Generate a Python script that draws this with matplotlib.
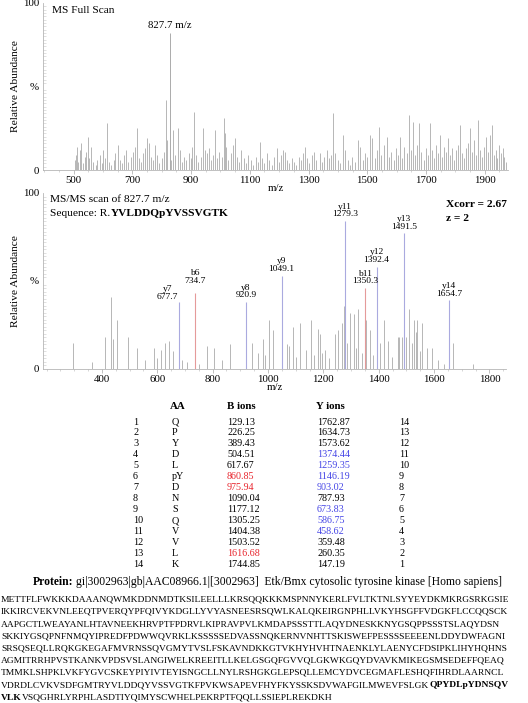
import matplotlib

matplotlib.use("Agg")
import matplotlib.pyplot as plt
from matplotlib.ticker import MultipleLocator

plt.rcParams["font.family"] = ["Liberation Serif", "DejaVu Serif"]

W, H = 528, 703  # figure size in pixels (dpi 100)

# --- MS full scan -----------------------------------------------------------
full_label = "827.7 m/z"
full_prec = (827.7, 82)
full_peaks = [
    (503, 6), (507, 9), (510, 14), (515, 5), (520, 12), (524, 16), (531, 4),
    (538, 8), (542, 11), (548, 20), (553, 7), (560, 14), (566, 5), (574, 3),
    (580, 6), (588, 9), (595, 4), (601, 12), (606, 7), (613, 28), (620, 5),
    (628, 3), (636, 6), (642, 10), (650, 15), (657, 6), (664, 4), (671, 9),
    (679, 12), (686, 5), (694, 8), (702, 11), (709, 14), (715, 25), (722, 7),
    (729, 5), (737, 10), (744, 13), (749, 19), (756, 16), (763, 8), (769, 6),
    (776, 15), (784, 9), (791, 4), (799, 7), (806, 11), (814, 42), (818, 18),
    (833, 6), (838, 24), (846, 9), (855, 25), (862, 12), (869, 5), (876, 8),
    (884, 6), (891, 10), (898, 7), (904, 14), (910, 35), (917, 9), (925, 5),
    (933, 8), (940, 25), (947, 12), (954, 10), (962, 13), (969, 6), (975, 9),
    (981, 24), (988, 7), (996, 11), (1004, 8), (1012, 31), (1016, 22),
    (1020, 14), (1027, 6), (1035, 10), (1042, 15), (1049, 19), (1056, 8),
    (1064, 5), (1071, 12), (1079, 7), (1087, 4), (1095, 9), (1104, 6),
    (1112, 3), (1120, 8), (1127, 5), (1134, 17), (1141, 7), (1150, 4),
    (1158, 10), (1166, 6), (1175, 3), (1183, 8), (1191, 13), (1198, 5),
    (1205, 9), (1212, 12), (1220, 11), (1228, 6), (1235, 4), (1243, 7),
    (1251, 5), (1259, 3), (1266, 8), (1274, 6), (1281, 10), (1287, 14),
    (1295, 7), (1303, 4), (1311, 9), (1319, 11), (1327, 6), (1338, 10),
    (1346, 5), (1354, 8), (1362, 12), (1370, 7), (1377, 9), (1383, 34),
    (1391, 10), (1399, 6), (1408, 4), (1417, 21), (1425, 12), (1433, 6),
    (1441, 3), (1449, 8), (1457, 5), (1469, 18), (1477, 14), (1485, 6),
    (1493, 10), (1501, 8), (1509, 21), (1517, 19), (1525, 7), (1533, 12),
    (1540, 26), (1548, 9), (1556, 15), (1566, 20), (1574, 8), (1582, 11),
    (1590, 6), (1598, 13), (1604, 9), (1611, 20), (1619, 7), (1627, 14),
    (1635, 10), (1642, 33), (1648, 12), (1655, 29), (1662, 9), (1669, 15),
    (1676, 28), (1684, 11), (1692, 6), (1700, 13), (1706, 9), (1713, 28),
    (1720, 12), (1728, 7), (1735, 15), (1740, 10), (1747, 21), (1755, 8),
    (1762, 14), (1768, 11), (1774, 19), (1781, 9), (1788, 13), (1795, 6),
    (1802, 12), (1809, 15), (1815, 27), (1822, 10), (1829, 7), (1836, 13),
    (1842, 16), (1849, 25), (1856, 11), (1863, 18), (1870, 9), (1877, 30),
    (1884, 12), (1891, 8), (1898, 14), (1905, 20), (1912, 11), (1918, 21),
    (1924, 27), (1931, 9), (1938, 12), (1944, 7), (1948, 15), (1955, 10),
    (1962, 13), (1968, 8), (1973, 5),
]

# --- MS/MS scan ---------------------------------------------------------------
msms_names = ["y7", "b6", "y8", "y9", "y11", "b11", "y12", "y13", "y14"]
msms_mz = [677.7, 734.7, 920.9, 1049.1, 1279.3, 1350.3, 1392.4, 1491.5, 1654.7]
msms_int = [38, 43, 38, 53, 84, 46, 58, 77, 39]
msms_other = [
    (295, 15), (364, 4), (411, 18), (432, 41), (440, 17), (454, 28), (494, 18),
    (526, 12), (555, 5), (587, 12), (600, 6), (613, 11), (627, 15), (642, 16),
    (656, 10), (689, 5), (707, 4), (750, 3), (779, 13), (804, 12), (833, 5),
    (862, 14), (941, 15), (963, 9), (981, 17), (990, 8), (1003, 28),
    (1017, 22), (1052, 12), (1068, 14), (1075, 13), (1089, 24), (1100, 7),
    (1114, 26), (1138, 11), (1157, 28), (1166, 8), (1179, 23), (1187, 20),
    (1195, 9), (1205, 11), (1222, 6), (1241, 20), (1252, 22), (1266, 26),
    (1275, 36), (1285, 15), (1295, 32), (1310, 31), (1318, 12), (1327, 34),
    (1340, 9), (1353, 28), (1367, 22), (1380, 8), (1403, 15), (1418, 28),
    (1432, 16), (1448, 7), (1468, 18), (1475, 18), (1483, 18), (1500, 18),
    (1508, 34), (1522, 15), (1529, 28), (1535, 21), (1540, 28), (1548, 10),
    (1558, 26), (1573, 12), (1594, 12), (1616, 5), (1637, 3), (1667, 15),
    (1739, 3),
]

# --- fragment table -----------------------------------------------------------
table_aa = ["Q", "P", "Y", "D", "L", "pY", "D", "N", "S", "Q", "V", "V", "L", "K"]
table_b = ["129.13", "226.25", "389.43", "504.51", "617.67", "860.85", "975.94",
           "1090.04", "1177.12", "1305.25", "1404.38", "1503.52", "1616.68",
           "1744.85"]
table_y = ["1762.87", "1634.73", "1573.62", "1374.44", "1259.35", "1146.19",
           "903.02", "787.93", "673.83", "586.75", "458.62", "359.48", "260.35",
           "147.19"]
b_matched = [6, 7, 13]               # rows shown in red
y_matched = [4, 5, 6, 7, 9, 10, 11]  # rows shown in blue

protein_id = "gi|3002963|gb|AAC08966.1|[3002963]  Etk/Bmx cytosolic tyrosine kinase [Homo sapiens]"
seq_lines = [
    "METTFLFWKKKDAAANQWMKDDNMDTKSILEELLLKRSQQKKKMSPNNYKERLFVLTKTNLSYYEYDKMKRGSRKGSIE",
    "IKKIRCVEKVNLEEQTPVERQYPFQIVYKDGLLYVYASNEESRSQWLKALQKEIRGNPHLLVKYHSGFFVDGKFLCCQQSCK",
    "AAPGCTLWEAYANLHTAVNEEKHRVPTFPDRVLKIPRAVPVLKMDAPSSSTTLAQYDNESKKNYGSQPPSSSTSLAQYDSN",
    "SKKIYGSQPNFNMQYIPREDFPDWWQVRKLKSSSSSEDVASSNQKERNVNHTTSKISWEFPESSSSEEEENLDDYDWFAGNI",
    "SRSQSEQLLRQKGKEGAFMVRNSSQVGMYTVSLFSKAVNDKKGTVKHYHVHTNAENKLYLAENYCFDSIPKLIHYHQHNS",
    "AGMITRRHPVSTKANKVPDSVSLANGIWELKREEITLLKELGSGQFGVVQLGKWKGQYDVAVKMIKEGSMSEDEFFQEAQ",
    "TMMKLSHPKLVKFYGVCSKEYPIYIVTEYISNGCLLNYLRSHGKGLEPSQLLEMCYDVCEGMAFLESHQFIHRDLAARNCL",
    "VDRDLCVKVSDFGMTRYVLDDQYVSSVGTKFPVKWSAPEVFHYFKYSSKSDVWAFGILMWEVFSLGK",
]
seq_bold_tail = "QPYDLpYDNSQV"  # ends line 8
seq_bold_head = "VLK"            # starts line 9
seq_last = "VSQGHRLYRPHLASDTIYQIMYSCWHELPEKRPTFQQLLSSIEPLREKDKH"

GREY = "#ababab"
RED = "#e8262e"
BLUE = "#4646e6"
Y_LINE = "#aaaadf"
B_LINE = "#e59a9a"

# label nudges (points) where neighbouring ion labels would collide
label_shift = {"y7": (-8, 1), "b6": (0, 6)}


def style_axes(ax, xlim, xmajor, xminor, xstart):
    ax.set_xlim(*xlim)
    ax.set_ylim(0, 100)
    for side in ("top", "right"):
        ax.spines[side].set_visible(False)
    for side in ("left", "bottom"):
        ax.spines[side].set_color("#b5b5b5")
        ax.spines[side].set_linewidth(0.6)
    ax.set_xticks(range(xstart, int(xlim[1]), xmajor))
    ax.xaxis.set_minor_locator(MultipleLocator(xminor))
    ax.set_yticks([0, 50, 100], ["0", "%", "100"])
    ax.yaxis.set_minor_locator(MultipleLocator(2))
    ax.tick_params(axis="x", which="major", length=3, width=0.6, color="#b5b5b5",
                   labelsize=7.8, pad=1.5)
    ax.tick_params(axis="x", which="minor", length=1.5, width=0.5, color="#c5c5c5")
    ax.tick_params(axis="y", which="major", length=0, labelsize=7.8, pad=3)
    ax.tick_params(axis="y", which="minor", length=2, width=0.4, color="#c8c8c8",
                   direction="in")
    ax.set_xlabel("m/z", fontsize=7.8, labelpad=-1)
    ax.set_ylabel("Relative Abundance", fontsize=8.2)
    ax.yaxis.set_label_coords(-0.05, 0.5)


def fig_text(fig, x, y, s, **kw):
    """Place text using pixel coordinates measured from the top-left corner."""
    return fig.text(x / W, 1 - y / H, s, **kw)


def text_runs(fig, x, y, runs, size):
    renderer = fig.canvas.get_renderer()
    for s, weight, gap in runs:
        t = fig_text(fig, x, y, s, fontsize=size, weight=weight, va="baseline")
        x += t.get_window_extent(renderer).width + gap


fig = plt.figure(figsize=(W / 100, H / 100), dpi=100)

# top panel: full scan
ax1 = fig.add_axes([43 / W, 1 - 170 / H, 465 / W, 167 / H])
style_axes(ax1, (395, 1980), 200, 50, 500)
mz, inten = zip(*full_peaks)
ax1.vlines(mz, 0, inten, color=GREY, lw=0.6)
ax1.vlines([full_prec[0]], 0, [full_prec[1]], color=GREY, lw=0.7)
ax1.annotate(full_label, (full_prec[0], full_prec[1]), xytext=(0, 2),
             textcoords="offset points", ha="center", va="bottom", fontsize=7.8)
ax1.text(0.02, 0.985, "MS Full Scan", transform=ax1.transAxes, fontsize=8.2,
         va="top")

# middle panel: MS/MS
ax2 = fig.add_axes([43 / W, 1 - 369 / H, 463 / W, 176 / H])
style_axes(ax2, (187, 1860), 200, 50, 400)
mz, inten = zip(*msms_other)
ax2.vlines(mz, 0, inten, color=GREY, lw=0.6)
for name, m, h in zip(msms_names, msms_mz, msms_int):
    col = B_LINE if name.startswith("b") else Y_LINE
    ax2.vlines([m], 0, [h], color=col, lw=0.8)
    ax2.annotate(f"{name}\n{m:.1f}", (m, h), xytext=label_shift.get(name, (0, 2)),
                 textcoords="offset points", ha="center", va="bottom",
                 fontsize=6.8, linespacing=0.95)

text_runs(fig, 50, 202, [("MS/MS scan of 827.7 m/z", "normal", 0)], 8.2)
text_runs(fig, 50, 216, [("Sequence: R.", "normal", 1), ("YVLDDQpYVSSVGTK", "bold", 0)], 8.2)
fig_text(fig, 446, 207, "Xcorr = 2.67", fontsize=8.2, weight="bold", va="baseline")
fig_text(fig, 446, 221, "z = 2", fontsize=8.2, weight="bold", va="baseline")

# fragment table
fs = 7.3
fig_text(fig, 170, 409, "AA", fontsize=fs + 0.5, weight="bold", va="baseline")
fig_text(fig, 227, 409, "B ions", fontsize=fs + 0.5, weight="bold", va="baseline")
fig_text(fig, 316, 409, "Y ions", fontsize=fs + 0.5, weight="bold", va="baseline")
for i in range(len(table_aa)):
    row = i + 1
    yb = 424.5 + i * 10.95
    fig_text(fig, 133, yb, str(row), fontsize=fs, va="baseline")
    fig_text(fig, 172, yb, table_aa[i], fontsize=fs, va="baseline")
    fig_text(fig, 227, yb, table_b[i], fontsize=fs, va="baseline",
             color=RED if row in b_matched else "black")
    fig_text(fig, 317, yb, table_y[i], fontsize=fs, va="baseline",
             color=BLUE if row in y_matched else "black")
    fig_text(fig, 399, yb, str(len(table_aa) - i), fontsize=fs, va="baseline")

# protein header and sequence
text_runs(fig, 33, 585, [("Protein:", "bold", 3), (protein_id, "normal", 0)], 8.4)

renderer = fig.canvas.get_renderer()
probe = fig_text(fig, 0, 0, seq_lines[0], fontsize=7)
seq_fs = 7 * 509 / probe.get_window_extent(renderer).width
probe.remove()

for i, line in enumerate(seq_lines):
    yb = 601.5 + i * 12.25
    if i == 7:
        text_runs(fig, 1, yb, [(line, "normal", 0), (seq_bold_tail, "bold", 0)], seq_fs)
    else:
        fig_text(fig, 1, yb, line, fontsize=seq_fs, va="baseline")
text_runs(fig, 1, 601.5 + 8 * 12.25,
          [(seq_bold_head, "bold", 0), (seq_last, "normal", 0)], seq_fs)

fig.savefig("out.png", dpi=100)
